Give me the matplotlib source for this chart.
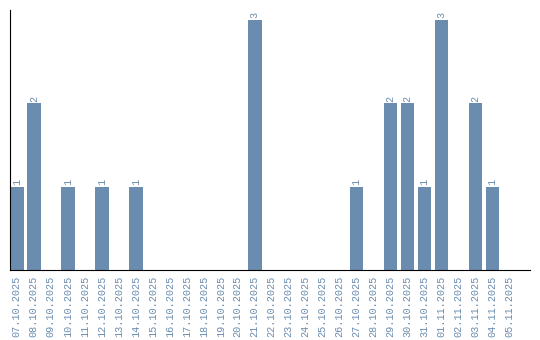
import matplotlib
matplotlib.use("Agg")
import matplotlib.pyplot as plt

dates = ["07.10.2025", "08.10.2025", "09.10.2025", "10.10.2025", "11.10.2025",
         "12.10.2025", "13.10.2025", "14.10.2025", "15.10.2025", "16.10.2025",
         "17.10.2025", "18.10.2025", "19.10.2025", "20.10.2025", "21.10.2025",
         "22.10.2025", "23.10.2025", "24.10.2025", "25.10.2025", "26.10.2025",
         "27.10.2025", "28.10.2025", "29.10.2025", "30.10.2025", "31.10.2025",
         "01.11.2025", "02.11.2025", "03.11.2025", "04.11.2025", "05.11.2025"]
counts = [1, 2, 0, 1, 0, 1, 0, 1, 0, 0,
          0, 0, 0, 0, 3, 0, 0, 0, 0, 0,
          1, 0, 2, 2, 1, 3, 0, 2, 1, 0]

color = "#6a8caf"
font = "Liberation Mono"

fig = plt.figure(figsize=(5.4, 3.4), dpi=100)
ax = fig.add_axes([10 / 540, 70 / 340, 520 / 540, 260 / 340])

x = list(range(len(dates)))
ax.bar(x, counts, width=0.8, color=color)

# value labels above non-empty bars
for xi, c in zip(x, counts):
    if c > 0:
        ax.text(xi, c + 0.02, str(c), rotation=90, ha="center", va="bottom",
                fontsize=7.3, color=color, family=font)

ax.set_xlim(-0.4, 30.2)
ax.set_ylim(0, 3.12)
ax.set_xticks(x)
ax.set_xticklabels(dates, rotation=90, fontsize=7.3, color=color, family=font)
ax.set_yticks([])
ax.tick_params(axis="x", length=0, pad=4)
ax.spines["top"].set_visible(False)
ax.spines["right"].set_visible(False)

fig.savefig("out.png", dpi=100)
